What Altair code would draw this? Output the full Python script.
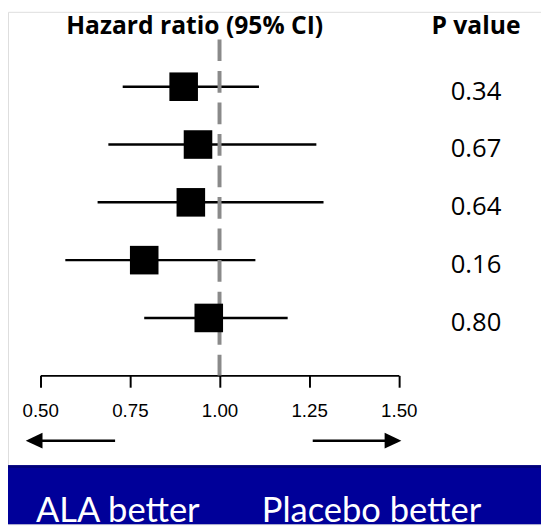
import altair as alt
import pandas as pd

# ---- data ----
rows = [0, 1, 2, 3, 4]
hr_est = [0.90, 0.94, 0.92, 0.79, 0.97]
hr_lo = [0.73, 0.69, 0.66, 0.57, 0.79]
hr_hi = [1.11, 1.27, 1.29, 1.10, 1.19]
p_values = ["0.34", "0.67", "0.64", "0.16", "0.80"]
tick_values = [0.50, 0.75, 1.00, 1.25, 1.50]
ref_value = 1.0
col_titles = ["Hazard ratio (95% CI)", "P value"]
favour_labels = ["ALA better", "Placebo better"]

df = pd.DataFrame({"row": rows, "est": hr_est, "lo": hr_lo, "hi": hr_hi, "p": p_values})
one = pd.DataFrame({"k": [0]})

W, H = 541, 520
FONT = "Lato"
HFONT = "Open Sans"

xscale = alt.Scale(domain=[0.5, 1.5], range=[32.7, 396.7], nice=False, zero=False)
yscale = alt.Scale(domain=[0, 4], range=[76, 310.7], nice=False, zero=False)

xaxis = alt.Axis(
    values=tick_values, format=".2f", title=None, grid=False,
    domainColor="black", domainWidth=2, tickColor="black", tickWidth=2, tickSize=12,
    labelFont="Liberation Sans", labelFontSize=19, labelColor="black", labelPadding=15,
    labelFlush=False, labelOverlap=False, offset=-151,
)

base = alt.Chart(df)

ci = base.mark_rule(color="black", strokeWidth=2.5).encode(
    x=alt.X("lo:Q", scale=xscale, axis=xaxis),
    x2="hi:Q",
    y=alt.Y("row:Q", scale=yscale, axis=None),
)

ref = alt.Chart(pd.DataFrame({"v": [ref_value]})).mark_rule(
    color="#8a8a8a", strokeWidth=4, strokeDash=[22, 10]
).encode(
    x=alt.X("v:Q", scale=xscale),
    y=alt.value(28),
    y2=alt.value(369),
)

squares = base.mark_square(color="black", opacity=1, size=841, filled=True).encode(
    x=alt.X("est:Q", scale=xscale),
    y=alt.Y("row:Q", scale=yscale),
)

ptext = base.mark_text(font=HFONT, fontSize=26, color="black", baseline="middle", align="center", dy=5).encode(
    x=alt.value(475),
    y=alt.Y("row:Q", scale=yscale),
    text="p:N",
)


def header(txt, px):
    return alt.Chart(one).mark_text(
        font=HFONT, fontSize=25, fontWeight="bold", color="black", baseline="alphabetic", align="center"
    ).encode(x=alt.value(px), y=alt.value(22), text=alt.value(txt))


hdr1 = header(col_titles[0], 189.5)
hdr2 = header(col_titles[1], 475)


def shaft(a, b):
    return alt.Chart(one).mark_rule(color="black", strokeWidth=2.5).encode(
        x=alt.value(a), x2=alt.value(b), y=alt.value(435.3)
    )


def head(px, path):
    return alt.Chart(one).mark_point(
        filled=True, opacity=1, color="black", size=289, shape=path
    ).encode(x=alt.value(px), y=alt.value(435.3))


arrows = [
    shaft(22, 108.7), head(26.5, "M -1 0 L 1 -0.94 L 1 0.94 Z"),
    shaft(309.3, 395), head(390.8, "M 1 0 L -1 -0.94 L -1 0.94 Z"),
]

banner = alt.Chart(one).mark_rect(color="#000099").encode(
    x=alt.value(0), x2=alt.value(W), y=alt.value(460.3), y2=alt.value(H)
)
banner_edge = alt.Chart(one).mark_rect(color="#00007a").encode(
    x=alt.value(0), x2=alt.value(W), y=alt.value(460.3), y2=alt.value(463)
)


def btext(txt, px):
    return alt.Chart(one).mark_text(
        font=FONT, fontSize=35, color="white", baseline="alphabetic", align="center"
    ).encode(x=alt.value(px), y=alt.value(518), text=alt.value(txt))


chart = alt.layer(
    ci, ref, squares, ptext, hdr1, hdr2, *arrows, banner, banner_edge,
    btext(favour_labels[0], 111.5), btext(favour_labels[1], 369)
).properties(
    width=W, height=H, autosize=alt.AutoSizeParams(type="none"), padding=0
).configure_view(stroke=None).configure(background="white")

chart.save("out.html", embed_options={"renderer": "svg", "actions": False})
